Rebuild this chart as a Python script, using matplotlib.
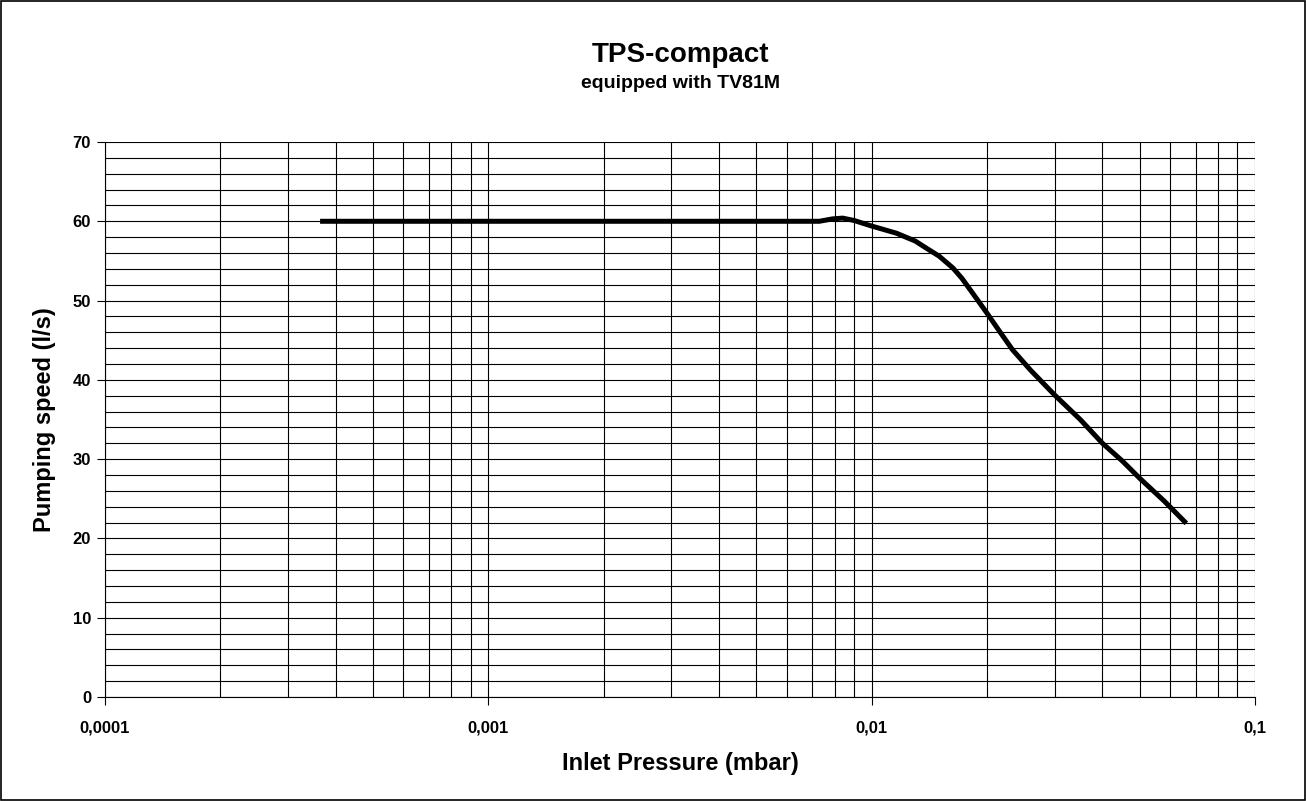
import matplotlib.pyplot as plt
from matplotlib.ticker import FixedLocator, NullFormatter

plt.rcParams['font.family'] = ['Liberation Sans', 'DejaVu Sans']
plt.rcParams['font.weight'] = 'bold'

# Curve
pressure = [0.000364, 0.0007, 0.0073, 0.0079, 0.0084, 0.0090, 0.0100, 0.0116,
            0.0130, 0.0139, 0.0150, 0.0163, 0.0172, 0.0183, 0.0190, 0.0200,
            0.0215, 0.0233, 0.026, 0.030, 0.035, 0.040, 0.045, 0.050,
            0.058, 0.0662]
speed = [60.0, 60.0, 60.0, 60.3, 60.4, 60.1, 59.4, 58.5,
         57.5, 56.6, 55.6, 54.1, 52.8, 51.0, 49.9, 48.4,
         46.2, 43.8, 41.2, 38.1, 35.0, 32.0, 29.8, 27.6,
         24.7, 21.9]

x_ticks = [0.0001, 0.001, 0.01, 0.1]
x_labels = ['0,0001', '0,001', '0,01', '0,1']

fig = plt.figure(figsize=(13.06, 8.01), dpi=100)
ax = fig.add_axes([105/1306, 1 - 697/801, 1150/1306, 555/801])

ax.plot(pressure, speed, color='black', lw=3.6, solid_joinstyle='round',
        solid_capstyle='butt', zorder=5)

ax.set_xscale('log')
ax.set_xlim(1e-4, 1e-1)
ax.set_ylim(0, 70)

minor_x = [m * 10.0**e for e in (-4, -3, -2) for m in range(2, 10)]
ax.xaxis.set_major_locator(FixedLocator(x_ticks))
ax.xaxis.set_minor_locator(FixedLocator(minor_x))
ax.set_xticklabels(x_labels)
ax.xaxis.set_minor_formatter(NullFormatter())
ax.set_yticks(range(0, 71, 10))
ax.set_yticks(range(0, 71, 2), minor=True)

ax.grid(True, which='both', color='black', lw=0.8)
ax.tick_params(axis='both', which='major', direction='out', length=6, width=0.8,
               labelsize=12, pad=4)
ax.tick_params(axis='x', which='major', pad=11)
ax.tick_params(axis='both', which='minor', length=0)
for s in ax.spines.values():
    s.set_linewidth(0.8)
ax.spines['top'].set_visible(False)
ax.spines['right'].set_visible(False)
for lab in ax.get_xticklabels() + ax.get_yticklabels():
    lab.set_fontweight('bold')

ax.set_xlabel('Inlet Pressure (mbar)', fontsize=17, fontweight='bold', labelpad=12)
ax.set_ylabel('Pumping speed (l/s)', fontsize=17, fontweight='bold', labelpad=12)

fig.text(680/1306, 1 - 55/801, 'TPS-compact', ha='center', va='center',
         fontsize=20, fontweight='bold')
fig.text(680/1306, 1 - 83/801, 'equipped with TV81M', ha='center', va='center',
         fontsize=14, fontweight='bold')

fig.patches.append(plt.Rectangle((0.001, 0.001), 0.998, 0.998, transform=fig.transFigure,
                                 fill=False, edgecolor='black', lw=1.2))

fig.savefig('out.png', dpi=100)
